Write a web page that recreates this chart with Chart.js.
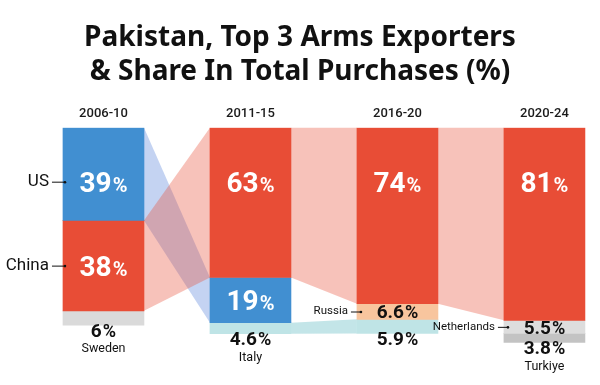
<!DOCTYPE html>
<html>
<head>
<meta charset="utf-8">
<script src="https://cdn.jsdelivr.net/npm/chart.js@4.4.1/dist/chart.umd.min.js"></script>
<style>
  html, body { margin: 0; padding: 0; background: #fff; }
  #wrap { width: 600px; height: 385px; }
</style>
</head>
<body>
<div id="wrap"><canvas id="chart"></canvas></div>
<script>
const periods = ['2006-10', '2011-15', '2016-20', '2020-24'];
const topCountry = ['US', 'China', 'China', 'China'];
const topShare = [39, 63, 74, 81];
const secondCountry = ['China', 'US', 'Russia', 'Netherlands'];
const secondShare = [38, 19, 6.6, 5.5];
const thirdCountry = ['Sweden', 'Italy', 'Italy', 'Turkiye'];
const thirdShare = [6, 4.6, 5.9, 3.8];

const colors = {US: '#418fd1', China: '#e84d36', Sweden: '#dadada', Italy: '#bfe4e6',
  Russia: '#f8c59e', Netherlands: '#dddddd', Turkiye: '#c3c3c3'};
const flowColors = {US: 'rgba(100,140,220,0.38)', China: 'rgba(232,80,58,0.35)', Italy: 'rgba(170,218,222,0.7)'};

const countries = [topCountry, secondCountry, thirdCountry];
const shares = [topShare, secondShare, thirdShare];
const sans = 'Roboto, "Noto Sans", sans-serif';

function box(el) {
  const p = el.getProps(['x', 'y', 'base', 'width'], true);
  return {left: p.x - p.width / 2, right: p.x + p.width / 2, x: p.x,
    top: Math.min(p.y, p.base), bottom: Math.max(p.y, p.base)};
}

// ribbons linking the same country between neighbouring bars
const flows = {
  id: 'flows',
  beforeDatasetsDraw(chart) {
    const ctx = chart.ctx;
    ctx.save();
    for (let i = 0; i < periods.length - 1; i++) {
      countries.forEach((list, p) => {
        const q = countries.findIndex(l => l[i + 1] === list[i]);
        if (q < 0) return;
        const a = box(chart.getDatasetMeta(p).data[i]);
        const b = box(chart.getDatasetMeta(q).data[i + 1]);
        ctx.fillStyle = flowColors[list[i]];
        ctx.beginPath();
        ctx.moveTo(a.right, a.top);
        ctx.lineTo(b.left, b.top);
        ctx.lineTo(b.left, b.bottom);
        ctx.lineTo(a.right, a.bottom);
        ctx.closePath();
        ctx.fill();
      });
    }
    ctx.restore();
  }
};

function drawValue(ctx, v, x, y, size, pctSize, color) {
  const num = String(v);
  ctx.font = `bold ${size}px ${sans}`;
  const wn = ctx.measureText(num).width;
  ctx.font = `bold ${pctSize}px ${sans}`;
  const wp = ctx.measureText('%').width;
  const x0 = x - (wn + wp + 1) / 2;
  const base = y + size * 0.36;
  ctx.fillStyle = color;
  ctx.textAlign = 'left';
  ctx.textBaseline = 'alphabetic';
  ctx.font = `bold ${size}px ${sans}`;
  ctx.fillText(num, x0, base);
  ctx.font = `bold ${pctSize}px ${sans}`;
  ctx.fillText('%', x0 + wn + 1, base);
}

const labels = {
  id: 'labels',
  afterDatasetsDraw(chart) {
    const ctx = chart.ctx;
    ctx.save();
    countries.forEach((list, p) => {
      list.forEach((c, i) => {
        const b = box(chart.getDatasetMeta(p).data[i]);
        const v = shares[p][i];
        let y;
        if (v >= 15) {
          y = p === 0 ? b.top + 54 : (b.top + b.bottom) / 2;
          drawValue(ctx, v, b.x, y, 28, 20, '#fff');
        } else {
          y = p === 2 ? b.bottom + 5 : (b.top + b.bottom) / 2;
          drawValue(ctx, v, b.x, y, 19, 18, '#111');
        }
        const isNew = i === 0 || !countries.some(l => l[i - 1] === c);
        if (!isNew) return;
        ctx.fillStyle = '#111';
        ctx.strokeStyle = '#111';
        ctx.textBaseline = 'middle';
        if (p === 2) {
          ctx.font = `12.5px ${sans}`;
          ctx.textAlign = 'center';
          ctx.fillText(c, b.x, y + 19);
        } else {
          const big = i === 0;
          ctx.font = `${big ? 17 : 11.5}px ${sans}`;
          ctx.textAlign = 'right';
          const end = big ? b.left + 2 : b.left + 4;
          const start = end - (big ? 13 : 10);
          ctx.fillText(c, start - 3, y);
          ctx.lineWidth = 1;
          ctx.beginPath();
          ctx.moveTo(start, y + 0.5);
          ctx.lineTo(end, y + 0.5);
          ctx.stroke();
          ctx.beginPath();
          ctx.arc(end, y + 0.5, 1.3, 0, Math.PI * 2);
          ctx.fill();
        }
      });
    });
    ctx.restore();
  }
};

new Chart(document.getElementById('chart'), {
  type: 'bar',
  data: {
    datasets: shares.map((s, p) => ({
      data: s.map((v, i) => ({x: i, y: v})),
      backgroundColor: countries[p].map(c => colors[c]),
      barThickness: 81,
      borderWidth: 0
    }))
  },
  options: {
    responsive: true,
    maintainAspectRatio: false,
    animation: false,
    layout: {padding: {top: 0, bottom: 19.5, left: 0, right: 0}},
    scales: {
      x: {
        type: 'linear',
        position: 'top',
        stacked: true,
        offset: false,
        min: -0.704,
        max: 3.378,
        grid: {display: false, drawTicks: false},
        border: {display: false},
        afterBuildTicks: s => { s.ticks = periods.map((_, i) => ({value: i})); },
        ticks: {
          callback: v => periods[v],
          autoSkip: false,
          maxRotation: 0,
          padding: 6,
          color: '#1a1a1a',
          font: {family: sans, size: 13, weight: '500'}
        }
      },
      y: {
        stacked: true,
        reverse: true,
        min: 0,
        max: 100,
        display: false
      }
    },
    plugins: {
      legend: {display: false},
      tooltip: {enabled: false},
      title: {
        display: true,
        text: ['Pakistan, Top 3 Arms Exporters', '& Share In Total Purchases (%)'],
        color: '#111',
        font: {family: '"Noto Sans", sans-serif', size: 28, weight: 'bold', lineHeight: 1.18},
        padding: {top: 22, bottom: 12}
      }
    }
  },
  plugins: [flows, labels]
});
</script>
</body>
</html>
